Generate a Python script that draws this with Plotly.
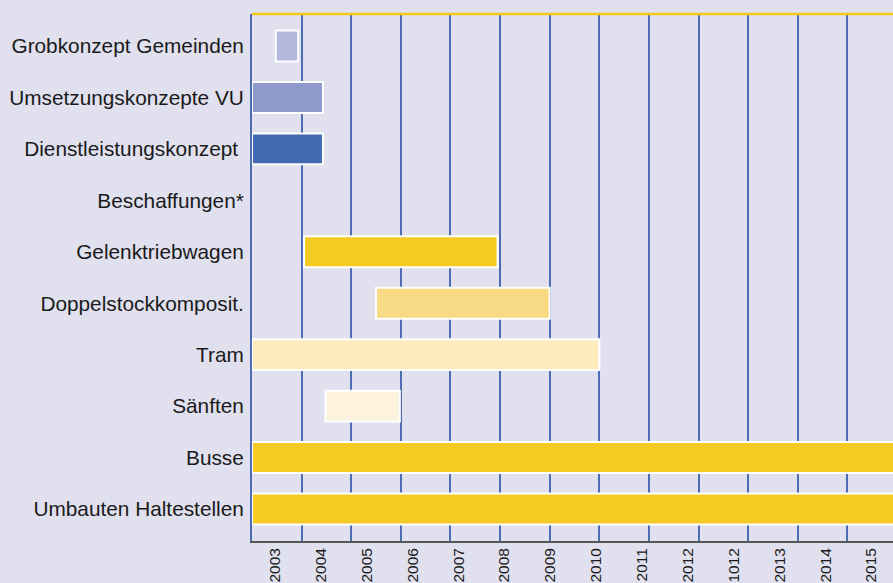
import plotly.graph_objects as go

# ---- data ----
tasks = ["Grobkonzept Gemeinden", "Umsetzungskonzepte VU", "Dienstleistungskonzept\u00a0",
         "Beschaffungen*", "Gelenktriebwagen", "Doppelstockkomposit.", "Tram",
         "Sänften", "Busse", "Umbauten Haltestellen"]
start_year = [2003.48, 2003.0, 2003.0, None, 2004.05, 2005.5, 2003.0, 2004.48, 2003.0, 2003.0]
end_year = [2003.93, 2004.43, 2004.43, None, 2007.95, 2009.0, 2010.0, 2005.98, 2016.0, 2016.0]
bar_colors = ["#B4B8DC", "#8E9ACB", "#4169B0", "#F5CB23", "#F5CB23", "#F9DA84",
              "#FEEBBB", "#FDF2DD", "#F5CB23", "#F5CB23"]
year_labels = ["2003", "2004", "2005", "2006", "2007", "2008", "2009", "2010",
               "2011", "2012", "1012", "2013", "2014", "2015"]

bg = "#E0E0EE"
grid_blue = "#4C6DB3"
font_family = "Liberation Sans, Arial, sans-serif"

lengths = [None if s is None else e - s for s, e in zip(start_year, end_year)]

fig = go.Figure()
fig.add_trace(go.Bar(
    y=tasks, x=lengths, base=start_year, orientation="h",
    marker=dict(color=bar_colors, line=dict(color="white", width=2)),
    width=0.6, xaxis="x", yaxis="y", showlegend=False, hoverinfo="skip",
))
# invisible helper trace so the label axis is rendered
fig.add_trace(go.Scatter(
    x=[0], y=[tasks[0]], xaxis="x2", yaxis="y", mode="markers",
    marker=dict(opacity=0), showlegend=False, hoverinfo="skip",
))

fig.update_layout(
    width=893, height=583,
    margin=dict(l=252, r=0, t=14, b=42),
    paper_bgcolor=bg, plot_bgcolor=bg,
    font=dict(family=font_family, color="#1a1a1a"),
    bargap=0,
    hovermode=False,
    xaxis=dict(
        range=[2003, 2015.92], tick0=2003, dtick=1,
        showgrid=True, gridcolor=grid_blue, gridwidth=2,
        showticklabels=False, ticks="", zeroline=False,
        showline=True, linecolor="#555555", linewidth=1.5,
    ),
    xaxis2=dict(
        overlaying="x", anchor="y", side="bottom",
        range=[-0.5, 13.47], tickmode="array",
        tickvals=list(range(len(year_labels))), ticktext=year_labels,
        tickangle=-90, tickfont=dict(size=15.5, family=font_family, color="#1a1a1a"),
        showgrid=False, zeroline=False, showline=False, ticks="",
        ticklabelstandoff=3,
    ),
    yaxis=dict(
        type="category", categoryorder="array", categoryarray=tasks,
        range=[len(tasks) - 1 + 0.622, -0.622],
        showgrid=False, ticks="", zeroline=False,
        showline=True, linecolor=grid_blue, linewidth=2,
        tickfont=dict(size=20.8, family=font_family, color="#1a1a1a"),
        ticklabelstandoff=2,
    ),
    shapes=[dict(type="line", xref="paper", yref="paper", x0=0, x1=1, y0=1, y1=1,
                 line=dict(color="#F5C518", width=2.5))],
)

page_fix = ("document.body.style.margin='0px';"
            "document.body.style.overflow='hidden';"
            "document.body.style.background='#E0E0EE';"
            "document.documentElement.style.background='#E0E0EE';")
fig.write_html("out.html", post_script=page_fix,
               config={"displayModeBar": False, "staticPlot": True})
